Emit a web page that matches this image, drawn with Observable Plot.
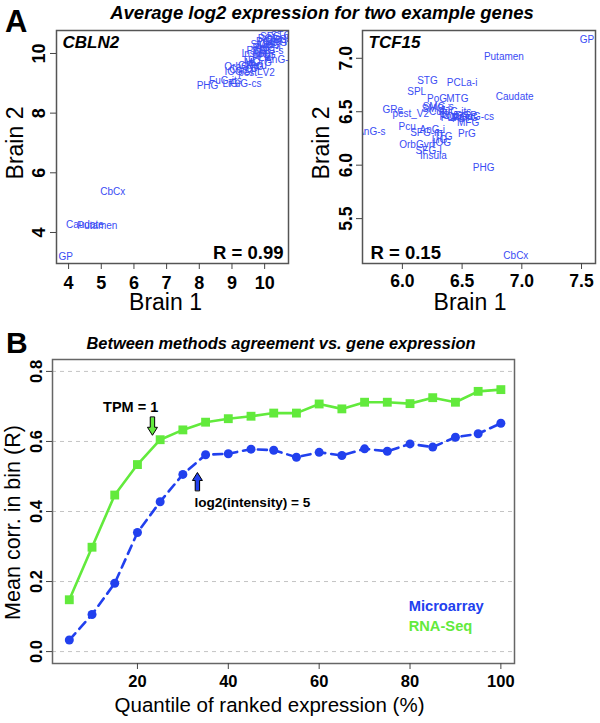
<!DOCTYPE html>
<html><head><meta charset="utf-8">
<script src="https://cdn.jsdelivr.net/npm/d3@7"></script>
<script src="https://cdn.jsdelivr.net/npm/@observablehq/plot@0.6"></script>
<style>
body{margin:0;background:#fff;}
#wrap{position:relative;width:600px;height:723px;font-family:"Liberation Sans",Arial,Helvetica,sans-serif;overflow:hidden;background:#fff;}
#wrap svg{position:absolute;}
.abs{position:absolute;white-space:nowrap;line-height:1.2;color:#000;}
</style></head><body><div id="wrap"></div>
<script>
// ---------- Data ----------
const regions = ["AnG-i","AnG-s","CgG","Cun","FuG-cs","FuG-its","GRe","IOG","ITG","Insula","LiG","MFG","MOrG","MTG","OrbGyri","PCLa-i","PCLa-s","PHG","PLP","PLT","PoG","PrG","Pcu","SFG-l","SFG-m","SMG-i","SMG-s","SPL","STG","TP","pest_V2","Caudate","Putamen","GP","CbCx"];
const cbln2Brain1 = [10.1,10.45,10.15,9.2,9.4,8.8,9.5,9.05,9.7,9.7,8.95,10.35,9.8,10.0,9.3,10.2,10.3,8.25,9.9,10.05,9.75,9.9,9.8,10.45,10.35,10.0,10.1,9.65,10.5,9.5,9.75,4.5,4.88,3.91,5.35];
const cbln2Brain2 = [10.2,9.8,10.3,9.45,9.0,9.1,9.6,9.4,9.55,10.0,9.0,10.35,9.7,9.95,9.55,10.4,10.5,8.9,9.85,9.9,10.1,10.2,9.6,10.45,10.55,10.3,10.1,9.4,10.6,9.75,9.35,4.26,4.23,3.19,5.37];
const tcf15Brain1 = [6.25,5.74,6.42,6.30,6.63,6.44,5.92,6.33,6.35,6.26,6.31,6.55,6.52,6.46,6.12,6.50,6.45,6.68,6.40,6.49,6.29,6.54,6.04,6.22,6.20,6.28,6.30,6.12,6.21,6.57,6.07,6.94,6.85,7.545,6.95];
const tcf15Brain2 = [6.33,6.31,6.46,6.50,6.45,6.50,6.52,6.21,6.27,6.09,6.24,6.40,6.44,6.62,6.19,6.77,6.45,5.98,6.44,6.43,6.62,6.29,6.36,6.13,6.30,6.53,6.55,6.69,6.79,6.46,6.48,6.64,7.01,7.17,5.15];
const cblnXTicks = [4,5,6,7,8,9,10];
const cblnYTicks = [4,6,8,10];
const tcfXTicks = [6.0,6.5,7.0,7.5];
const tcfYTicks = [5.5,6.0,6.5,7.0];

const quantile = [5,10,15,20,25,30,35,40,45,50,55,60,65,70,75,80,85,90,95,100];
const microarray = [0.033,0.106,0.195,0.340,0.428,0.506,0.562,0.565,0.578,0.575,0.555,0.569,0.560,0.579,0.572,0.593,0.584,0.612,0.622,0.652];
const rnaseq = [0.148,0.298,0.447,0.534,0.605,0.633,0.655,0.665,0.672,0.681,0.681,0.707,0.693,0.712,0.712,0.708,0.725,0.712,0.743,0.748];
const bXTicks = [20,40,60,80,100];
const bYTicks = [0.0,0.2,0.4,0.6,0.8];

// ---------- Style ----------
const FONT = '"Liberation Sans", Arial, Helvetica, sans-serif';
const BLUE = "#2140ee", GREEN = "#62ea3c", LABEL_BLUE = "#3a4cf4";
const wrap = document.getElementById("wrap");

function scatterPanel(o) {
  const data = regions.map((r, i) => ({region: r, b1: o.b1[i], b2: o.b2[i]}));
  const svg = Plot.plot({
    width: 300, height: 320,
    marginLeft: o.ml, marginRight: o.mr, marginTop: 30, marginBottom: 57,
    style: {fontFamily: FONT, fontSize: o.tickSize + "px", fontWeight: "bold", background: "transparent", color: "#000"},
    x: {domain: o.xDomain}, y: {domain: o.yDomain},
    marks: [
      Plot.text(data, {x: "b1", y: "b2", text: "region", fill: LABEL_BLUE, fontSize: 10, fontWeight: "normal", clip: true}),
      Plot.frame({stroke: "#555", strokeWidth: 1.5}),
      Plot.axisX({ticks: o.xTicks, tickSize: 6, tickPadding: o.xPad, tickFormat: o.fmt, label: null, stroke: "#444"}),
      Plot.axisY({ticks: o.yTicks, tickSize: 6, tickFormat: () => "", label: null, stroke: "#444"}),
      Plot.text(o.yTicks, {y: d => d, text: o.fmt, frameAnchor: "left", dx: o.yDx, rotate: -90, textAnchor: "middle", lineAnchor: "middle"}),
      Plot.text([o.gene], {frameAnchor: "top-left", textAnchor: "start", lineAnchor: "middle", dx: o.geneDx, dy: 12, fontSize: 17, fontStyle: "italic"}),
      Plot.text([o.rText], {frameAnchor: o.rAnchor, textAnchor: o.rAnchor === "bottom-right" ? "end" : "start", lineAnchor: "middle", dx: o.rDx, dy: -10.5, fontSize: 18.5}),
      Plot.text(["Brain 1"], {frameAnchor: "bottom", lineAnchor: "middle", dy: 39, dx: o.b1Dx, fontSize: 23, fontWeight: "normal"}),
      Plot.text(["Brain 2"], {frameAnchor: "left", rotate: -90, textAnchor: "middle", lineAnchor: "middle", dx: -41, dy: -4, fontSize: 23, fontWeight: "normal"})
    ]
  });
  svg.style.left = o.left + "px";
  svg.style.top = "0px";
  wrap.appendChild(svg);
}

scatterPanel({b1: cbln2Brain1, b2: cbln2Brain2, xDomain: [3.63, 10.73], yDomain: [2.96, 10.77],
  xTicks: cblnXTicks, yTicks: cblnYTicks, fmt: d => String(d), gene: "CBLN2", rText: "R = 0.99",
  rAnchor: "bottom-right", rDx: -5, geneDx: 6, ml: 56, mr: 12, left: 0, tickSize: 18, xPad: 7, yDx: -17, b1Dx: -7});
scatterPanel({b1: tcf15Brain1, b2: tcf15Brain2, xDomain: [5.666, 7.617], yDomain: [5.08, 7.26],
  xTicks: tcfXTicks, yTicks: tcfYTicks, fmt: d3.format(".1f"), gene: "TCF15", rText: "R = 0.15",
  rAnchor: "bottom-left", rDx: 8, geneDx: 6, ml: 62, mr: 5, left: 300, tickSize: 17.5, xPad: 5, yDx: -16, b1Dx: -9});

// block arrow shape for annotation vectors
const blockArrow = {
  draw(context, l) {
    const hw = 2.2, head = 8, hh = 5;
    context.moveTo(-hw, 0);
    context.lineTo(-hw, -l + head);
    context.lineTo(-hh, -l + head);
    context.lineTo(0, -l);
    context.lineTo(hh, -l + head);
    context.lineTo(hw, -l + head);
    context.lineTo(hw, 0);
    context.closePath();
  }
};

const svgB = Plot.plot({
  width: 600, height: 403,
  marginLeft: 52, marginRight: 86, marginTop: 39, marginBottom: 60,
  style: {fontFamily: FONT, fontSize: "16.5px", fontWeight: "bold", background: "transparent", color: "#000"},
  x: {domain: [1.3, 103]}, y: {domain: [-0.034, 0.834]},
  marks: [
    Plot.ruleY(bYTicks, {stroke: "#c4c4c4", strokeDasharray: "4,4", strokeWidth: 1}),
    Plot.frame({stroke: "#666", strokeWidth: 1.5}),
    Plot.line(quantile, {x: quantile, y: rnaseq, stroke: GREEN, strokeWidth: 2.6}),
    Plot.line(quantile, {x: quantile, y: microarray, stroke: BLUE, strokeWidth: 2.6, strokeDasharray: "9,6"}),
    Plot.dot(quantile, {x: quantile, y: rnaseq, symbol: "square", r: 5, fill: GREEN}),
    Plot.dot(quantile, {x: quantile, y: microarray, symbol: "circle", r: 4.5, fill: BLUE}),
    Plot.axisX({ticks: bXTicks, tickSize: 6, tickPadding: 6, label: null, stroke: "#444"}),
    Plot.axisY({ticks: bYTicks, tickSize: 6, tickFormat: () => "", label: null, stroke: "#444"}),
    Plot.text(bYTicks, {y: d => d, text: d3.format(".1f"), frameAnchor: "left", dx: -16, rotate: -90, textAnchor: "middle", lineAnchor: "middle"}),
    Plot.vector([0], {x: 23.3, y: 0.669, length: 18, rotate: 180, anchor: "start", shape: blockArrow, fill: GREEN, stroke: "#000", strokeWidth: 1}),
    Plot.vector([0], {x: 33.2, y: 0.46, length: 18, rotate: 0, anchor: "start", shape: blockArrow, fill: BLUE, stroke: "#000", strokeWidth: 1}),
    Plot.text(["TPM = 1"], {x: 18.5, y: 0.697, fontSize: 14.5}),
    Plot.text(["log2(intensity) = 5"], {x: 45.3, y: 0.425, fontSize: 13.6}),
    Plot.text(["Microarray"], {x: 79.7, y: 0.128, textAnchor: "start", fill: BLUE, fontSize: 14.7}),
    Plot.text(["RNA-Seq"], {x: 79.7, y: 0.071, textAnchor: "start", fill: GREEN, fontSize: 14.7}),
    Plot.text(["Quantile of ranked expression (%)"], {frameAnchor: "bottom", lineAnchor: "middle", dy: 42, dx: -14, fontSize: 20.5, fontWeight: "normal"}),
    Plot.text(["Mean corr. in bin (R)"], {frameAnchor: "left", rotate: -90, textAnchor: "middle", lineAnchor: "middle", dx: -39, dy: 11, fontSize: 21.5, fontWeight: "normal"})
  ]
});
svgB.style.left = "0px";
svgB.style.top = "320px";
wrap.appendChild(svgB);

// ---------- Titles and panel letters ----------
function addText(txt, css) {
  const d = document.createElement("div");
  d.className = "abs";
  d.textContent = txt;
  Object.assign(d.style, css);
  wrap.appendChild(d);
}
addText("Average log2 expression for two example genes", {left: "0px", width: "644px", textAlign: "center", top: (13 - 0.589 * 18.5) + "px", fontSize: "18.5px", fontWeight: "bold", fontStyle: "italic"});
addText("Between methods agreement vs. gene expression", {left: "0px", width: "562px", textAlign: "center", top: (344 - 0.589 * 16.4) + "px", fontSize: "16.4px", fontWeight: "bold", fontStyle: "italic"});
addText("A", {left: "5px", top: (21 - 0.589 * 31) + "px", fontSize: "31px", fontWeight: "bold"});
addText("B", {left: "6px", top: (343 - 0.589 * 30) + "px", fontSize: "30px", fontWeight: "bold"});
</script>
</body></html>
